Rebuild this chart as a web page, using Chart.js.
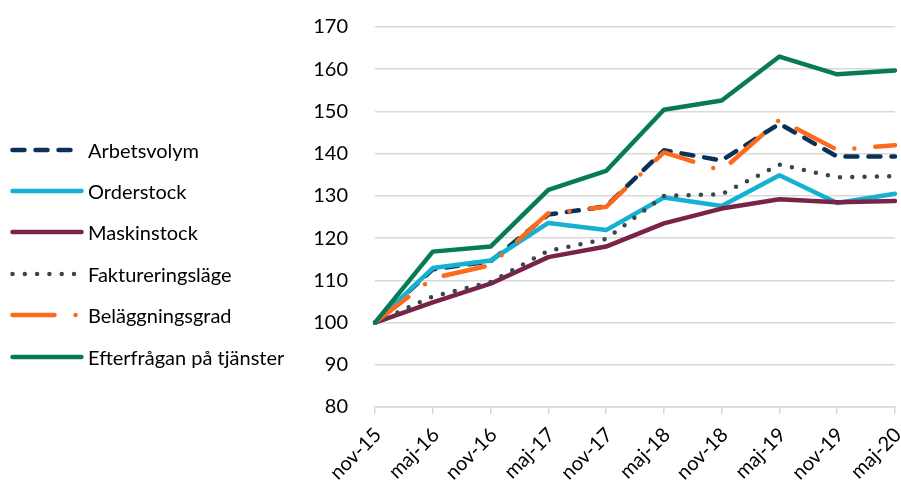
<!DOCTYPE html>
<html>
<head>
<meta charset="utf-8">
<script src="https://cdn.jsdelivr.net/npm/chart.js@4"></script>
<style>
  html, body { margin: 0; padding: 0; background: #fff; }
  #wrap { position: relative; width: 901px; height: 487px; overflow: hidden; }
  #c { position: absolute; left: 0; top: 0; }
  #legend { position: absolute; left: 0; top: 0; font-family: Lato, "Open Sans", sans-serif; font-size: 20px; color: #000; }
  .item { position: absolute; left: 8px; height: 24px; display: flex; align-items: center; white-space: nowrap; }
  .item svg { width: 80px; height: 10px; margin-right: 0px; }
</style>
</head>
<body>
<div id="wrap">
  <canvas id="c" width="901" height="487"></canvas>
  <div id="legend"></div>
</div>
<script>
const categories = ["nov-15","maj-16","nov-16","maj-17","nov-17","maj-18","nov-18","maj-19","nov-19","maj-20"];
const yTicks = [80, 90, 100, 110, 120, 130, 140, 150, 160, 170];

const arbetsvolym      = [100, 112.6, 114.5, 125.6, 127.5, 140.8, 138.4, 147.1, 139.3, 139.3];
const orderstock       = [100, 112.9, 114.7, 123.6, 121.9, 129.6, 127.6, 134.9, 128.3, 130.5];
const maskinstock      = [100, 104.8, 109.2, 115.5, 118.0, 123.5, 127.0, 129.2, 128.5, 128.8];
const fakturering      = [100, 106.2, 109.6, 117.0, 119.8, 130.0, 130.4, 137.4, 134.4, 134.7];
const belaggningsgrad  = [100, 110.5, 113.6, 125.9, 127.4, 140.3, 136.0, 148.0, 140.9, 142.0];
const efterfragan      = [100, 116.8, 118.0, 131.4, 135.9, 150.4, 152.6, 163.0, 158.8, 159.7];

const FONT = "Lato, 'Open Sans', sans-serif";

const series = [
  { label: "Arbetsvolym", data: arbetsvolym, color: "#0c3158", dash: [12, 11], order: 5 },
  { label: "Orderstock", data: orderstock, color: "#14b1d0", dash: [], order: 4 },
  { label: "Maskinstock", data: maskinstock, color: "#7a2348", dash: [], order: 3 },
  { label: "Faktureringsläge", data: fakturering, color: "#3b4550", dash: [0, 12.3], order: 2 },
  { label: "Beläggningsgrad", data: belaggningsgrad, color: "#fd6a1c", dash: [42, 21, 0, 21], order: 1 },
  { label: "Efterfrågan på tjänster", data: efterfragan, color: "#077b55", dash: [], order: 0 }
];

const datasets = series.map(s => ({
  label: s.label,
  data: s.data,
  borderColor: s.color,
  backgroundColor: s.color,
  borderWidth: 4.5,
  borderDash: s.dash,
  borderCapStyle: "round",
  borderJoinStyle: "round",
  pointRadius: 0,
  tension: 0,
  fill: false,
  order: s.order
}));

new Chart(document.getElementById("c"), {
  type: "line",
  data: { labels: categories, datasets },
  options: {
    responsive: false,
    devicePixelRatio: 1,
    animation: false,
    events: [],
    layout: { padding: { left: 300, top: 27, right: 6, bottom: 0 } },
    plugins: { legend: { display: false }, tooltip: { enabled: false } },
    scales: {
      x: {
        offset: false,
        afterFit: s => { s.height = 80; s.paddingLeft = 0; s.paddingRight = 0; },
        grid: { drawOnChartArea: false, drawTicks: true, tickLength: 7, color: "#d9d9d9", lineWidth: 1.5 },
        border: { display: true, color: "#d9d9d9", width: 1.5 },
        ticks: { font: { family: FONT, size: 20 }, color: "#000", minRotation: 45, maxRotation: 45, padding: 9, labelOffset: 3, autoSkip: false }
      },
      y: {
        min: 80, max: 170,
        afterFit: s => { s.width = 75; s.paddingTop = 0; s.paddingBottom = 0; },
        afterBuildTicks: s => { s.ticks = yTicks.map(v => ({ value: v })); },
        grid: { color: "#d9d9d9", lineWidth: 1.5, drawTicks: false },
        border: { display: false },
        ticks: { font: { family: FONT, size: 20 }, color: "#000", padding: 27 }
      }
    }
  }
});

// HTML legend
const legendY = [150, 191, 232, 274, 315, 357];
const legend = document.getElementById("legend");
series.forEach((s, i) => {
  const div = document.createElement("div");
  div.className = "item";
  div.style.top = (legendY[i] - 12) + "px";
  const da = s.dash.length ? `stroke-dasharray="${s.dash.join(' ')}"` : "";
  div.innerHTML = `<svg viewBox="0 0 80 10"><line x1="4.5" y1="5" x2="73.5" y2="5" stroke="${s.color}" stroke-width="4.5" stroke-linecap="round" ${da}/></svg><span>${s.label}</span>`;
  legend.appendChild(div);
});
</script>
</body>
</html>
